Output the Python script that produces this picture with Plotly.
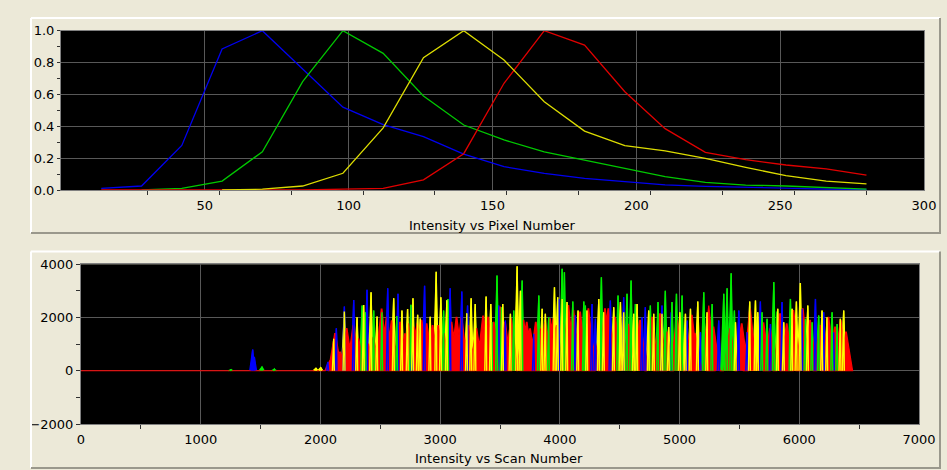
import plotly.graph_objects as go

W, H = 947, 470

# ---------------- top panel data: Intensity vs Pixel Number ----------------
pixel_number = [14, 28, 42, 56, 70, 84, 98, 112, 126, 140, 154, 168, 182, 196, 210, 224, 238, 252, 266, 280]
pix_blue = [0.01, 0.025, 0.28, 0.885, 1.0, 0.76, 0.52, 0.41, 0.335, 0.225, 0.146, 0.105, 0.073, 0.052, 0.032, 0.023, 0.017, 0.013, 0.006, 0.004]
pix_green = [None, 0.0, 0.01, 0.056, 0.24, 0.68, 1.0, 0.858, 0.59, 0.408, 0.314, 0.24, 0.188, 0.132, 0.084, 0.048, 0.031, 0.025, 0.015, 0.006]
pix_yellow = [None, None, None, 0.0, 0.005, 0.025, 0.105, 0.39, 0.83, 1.0, 0.816, 0.554, 0.37, 0.278, 0.245, 0.199, 0.142, 0.09, 0.056, 0.038]
pix_red = [0.0, 0.0, 0.0, 0.0, 0.0, 0.0, 0.005, 0.01, 0.064, 0.228, 0.67, 1.0, 0.91, 0.617, 0.385, 0.236, 0.19, 0.157, 0.132, 0.094]

top_x_labels = [50, 100, 150, 200, 250, 300]
top_x_minor = [30, 55, 80, 105, 130, 155, 180, 205, 230, 255, 280]

# ---------------- bottom panel data: Intensity vs Scan Number (peaks) ----------------
blue_scan = [1431, 1445, 2060, 2130, 2197, 2275, 2386, 2559, 2645, 2762, 2867, 3081, 3178, 3226,
             3487, 3542, 3779, 3988, 4127, 4266, 4294, 4419, 4530, 4684, 4711, 4850, 4928,
             5060, 5171, 5324, 5492, 5561, 5672, 5756, 5853, 6020, 6132, 6201, 6285]
blue_peak = [800, 520, 330, 1600, 2410, 2660, 3040, 3100, 2890, 2390, 3190, 3100, 2980, 2450,
             2450, 1890, 1390, 2700, 2080, 2510, 1950, 2640, 2760, 2010, 2390, 2450, 2200,
             1890, 1450, 1890, 2260, 1450, 2600, 1760, 2580, 2330, 2700, 2200, 1450]

green_scan = [1250, 1509, 1612, 2345, 2372, 2442, 2511, 2636, 2753, 3026, 3062, 3429, 3472,
              3509, 3612, 3682, 3821, 3904, 4016, 4035, 4105, 4197, 4210, 4344, 4483, 4558,
              4592, 4628, 4753, 4817, 4878, 4934, 4971, 5018, 5199, 5269, 5366, 5394, 5428,
              5455, 5686, 5728, 5784, 5812, 5923, 6048, 6104, 6159, 6271, 6313]
green_peak = [40, 150, 60, 2450, 2200, 2260, 2200, 2060, 2480, 2260, 2700, 1830, 3580,
              2390, 2260, 3390, 2830, 2010, 3830, 3700, 2600, 2600, 2450, 3510, 2830, 2890,
              3390, 2510, 2450, 2580, 3010, 2580, 2890, 2830, 2950, 2510, 2890, 3100, 3660,
              2260, 2200, 1950, 3330, 2230, 2700, 1950, 1820, 2080, 2200, 1760]

yellow_scan = [1960, 2000, 2108, 2197, 2303, 2358, 2420, 2470, 2609, 2678, 2725, 2770, 2809,
               2831, 2914, 2964, 3003, 3053, 3220, 3256, 3290, 3381, 3420, 3520, 3584, 3640,
               3668, 3849, 3876, 3952, 3979, 4016, 4057, 4149, 4224, 4322, 4363, 4447, 4503,
               4530, 4614, 4642, 4739, 4781, 4850, 4906, 4999, 5046, 5088, 5149, 5227, 5464,
               5583, 5631, 5650, 5817, 5867, 5937, 5973, 6006, 6068, 6187, 6229, 6340, 6368]
yellow_peak = [100, 120, 1200, 2230, 2010, 2470, 2950, 2040, 2720, 2260, 2320, 2720, 2100,
               1960, 2030, 3720, 2760, 2650, 2160, 2720, 2510, 2790, 2510, 2510, 2140, 3930,
               3010, 2330, 2140, 3140, 2760, 2700, 2580, 2260, 2260, 2700, 2200, 2390, 2580,
               2200, 2140, 2510, 2260, 2140, 2140, 1640, 2200, 2140, 2330, 2600, 2200, 1820,
               2600, 2640, 2200, 2330, 1820, 2330, 2600, 3300, 2450, 2260, 2010, 1950, 2260]

red_scan = [2094, 2122, 2164, 2219, 2275, 2317, 2400, 2442, 2511, 2553, 2595, 2664, 2706, 2734,
            2781, 2809, 2845, 2887, 2937, 2984, 3031, 3095, 3137, 3178, 3234, 3303, 3359, 3401,
            3448, 3501, 3542, 3593, 3696, 3723, 3751, 3799, 3835, 3876, 3918, 3946, 3974, 4071,
            4113, 4169, 4238, 4294, 4377, 4405, 4461, 4572, 4670, 4767, 4837, 4892, 4977, 5102,
            5130, 5241, 5283, 5422, 5519, 5589, 5700, 5756, 5839, 5895, 5951, 6029, 6090, 6173,
            6243, 6299, 6346, 6390]
red_peak = [500, 1400, 700, 1580, 1700, 1200, 1000, 1260, 2320, 2010, 1880, 1820, 1390, 1760,
            1640, 1760, 1890, 1760, 1700, 1700, 1400, 1820, 2010, 2010, 1700, 1580, 2050, 2010,
            1820, 2390, 1820, 1950, 1890, 1820, 1575, 1820, 1575, 1820, 1950, 1950, 1700, 2450,
            2260, 2200, 2330, 1075, 2330, 2330, 2010, 1760, 1890, 2010, 2140, 1450, 1890, 2080,
            1390, 2450, 1640, 1575, 1760, 2330, 1820, 1575, 2140, 1760, 2260, 2330, 1890, 1700,
            2010, 1640, 1890, 1450]

scan_end = 6400
bottom_x_minor = [500, 1500, 2500, 3500, 4500, 5500, 6500]

FONT = "DejaVu Sans"
BG = "#ECE9D8"
GRID = "#585858"


def spike_trace(scans, peaks, half_width, baseline):
    xs, ys = [], []
    if baseline:
        xs.append(0)
        ys.append(0)
    for s, p in sorted(zip(scans, peaks)):
        xs += [s - half_width, s - 3, s + 3, s + half_width]
        ys += [0, p, p, 0]
        if not baseline:
            xs.append(None)
            ys.append(None)
    if baseline:
        xs.append(scan_end)
        ys.append(0)
    return xs, ys


fig = go.Figure()

# top panel curves
for vals, col in [(pix_blue, "#0000F0"), (pix_green, "#00C800"), (pix_red, "#E00000"), (pix_yellow, "#DCDC00")]:
    fig.add_trace(go.Scatter(x=pixel_number, y=vals, mode="lines",
                             line=dict(color=col, width=1.3), xaxis="x", yaxis="y",
                             showlegend=False, hoverinfo="skip"))

bottom_series = [
    (blue_scan, blue_peak, "#0000FF"),
    (green_scan, green_peak, "#00EE00"),
    (yellow_scan, yellow_peak, "#FFFF00"),
]

# bottom panel: filled spikes of blue/green/yellow behind
for scans, peaks, col in bottom_series:
    xs, ys = spike_trace(scans, peaks, 22, False)
    fig.add_trace(go.Scatter(x=xs, y=ys, mode="lines", fill="tozeroy", fillcolor=col,
                             line=dict(color=col, width=1.2), xaxis="x2", yaxis="y2",
                             showlegend=False, hoverinfo="skip"))

# red filled peaks
xs, ys = spike_trace(red_scan, red_peak, 55, True)
fig.add_trace(go.Scatter(x=xs, y=ys, mode="lines", fill="tozeroy", fillcolor="#FF0000",
                         line=dict(color="#FF0000", width=1.2), xaxis="x2", yaxis="y2",
                         showlegend=False, hoverinfo="skip"))

# thin spike outlines of blue/green/yellow drawn over the red
for scans, peaks, col in bottom_series:
    xs, ys = spike_trace(scans, peaks, 8, False)
    fig.add_trace(go.Scatter(x=xs, y=ys, mode="lines",
                             line=dict(color=col, width=1.4), xaxis="x2", yaxis="y2",
                             showlegend=False, hoverinfo="skip"))


def px(x):
    return x / W


def py(y):
    return 1 - y / H


axis_common = dict(showgrid=True, gridcolor=GRID, gridwidth=1, zeroline=False,
                   showline=True, linecolor="#808080", linewidth=1, mirror=True,
                   automargin=False,
                   tickfont=dict(family=FONT, size=13, color="#000000"))

fig.update_layout(
    width=W, height=H,
    margin=dict(l=0, r=0, t=0, b=0),
    paper_bgcolor=BG, plot_bgcolor="#000000",
    showlegend=False,
    xaxis=dict(domain=[px(61), px(924)], range=[0, 300], tickmode="array",
               tickvals=top_x_labels, ticks="outside", ticklen=3, tickcolor="rgba(0,0,0,0)",
               minor=dict(tickmode="array", tickvals=top_x_minor, ticks="outside",
                          ticklen=4, tickcolor="#303030", showgrid=False),
               anchor="y", **axis_common),
    yaxis=dict(domain=[py(190), py(30.7)], range=[0, 1], tickmode="array",
               tickvals=[0, 0.2, 0.4, 0.6, 0.8, 1.0],
               ticktext=["0.0", "0.2", "0.4", "0.6", "0.8", "1.0"],
               ticks="outside", ticklen=3, tickcolor="#303030",
               minor=dict(dtick=0.1, ticks="outside", ticklen=3, tickcolor="#303030", showgrid=False),
               anchor="x", **axis_common),
    xaxis2=dict(domain=[px(81), px(919)], range=[0, 7000], tickmode="array",
                tickvals=[0, 1000, 2000, 3000, 4000, 5000, 6000, 7000],
                ticks="outside", ticklen=3, tickcolor="rgba(0,0,0,0)",
                minor=dict(tickmode="array", tickvals=bottom_x_minor, ticks="outside",
                           ticklen=4, tickcolor="#303030", showgrid=False),
                anchor="y2", **axis_common),
    yaxis2=dict(domain=[py(424), py(264.3)], range=[-2000, 4000], tickmode="array",
                tickvals=[-2000, 0, 2000, 4000], ticks="outside", ticklen=4, tickcolor="#303030",
                minor=dict(dtick=1000, ticks="outside", ticklen=4, tickcolor="#303030", showgrid=False),
                anchor="x2", **axis_common),
)

# panel frames (raised look)
shapes = []
for top, bottom in [(18, 233), (251.5, 468)]:
    shapes.append(dict(type="line", xref="paper", yref="paper", x0=px(31), x1=px(940), y0=py(top), y1=py(top),
                       line=dict(color="#FFFFFF", width=2)))
    shapes.append(dict(type="line", xref="paper", yref="paper", x0=px(31), x1=px(31), y0=py(top), y1=py(bottom),
                       line=dict(color="#FFFFFF", width=2)))
    shapes.append(dict(type="line", xref="paper", yref="paper", x0=px(31), x1=px(941), y0=py(bottom), y1=py(bottom),
                       line=dict(color="#9A988C", width=2)))
    shapes.append(dict(type="line", xref="paper", yref="paper", x0=px(940), x1=px(940), y0=py(top), y1=py(bottom),
                       line=dict(color="#9A988C", width=2)))
fig.update_layout(shapes=shapes)

fig.add_annotation(text="Intensity vs Pixel Number", x=px(492), y=py(225), xref="paper", yref="paper",
                   showarrow=False, xanchor="center", yanchor="middle",
                   font=dict(family=FONT, size=13, color="#000000"))
fig.add_annotation(text="Intensity vs Scan Number", x=px(499), y=py(458), xref="paper", yref="paper",
                   showarrow=False, xanchor="center", yanchor="middle",
                   font=dict(family=FONT, size=13, color="#000000"))

fig.write_html("out.html", config={"displayModeBar": False},
               post_script="document.body.style.margin='0';document.body.style.padding='0';"
                           "document.body.style.overflow='hidden';"
                           "document.body.style.background='" + BG + "';")
